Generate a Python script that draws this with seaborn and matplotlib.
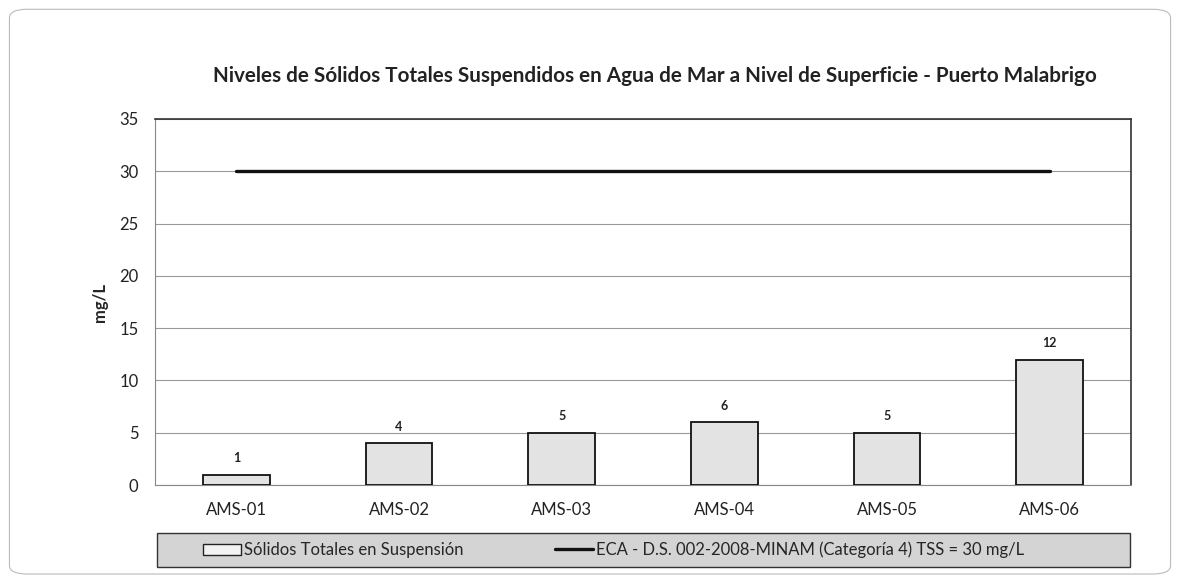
import pandas as pd
import matplotlib.pyplot as plt
import seaborn as sns
from matplotlib.patches import FancyBboxPatch, Patch, Rectangle
from matplotlib.lines import Line2D

estaciones = ["AMS-01", "AMS-02", "AMS-03", "AMS-04", "AMS-05", "AMS-06"]
sst = [1, 4, 5, 6, 5, 12]
eca = [30, 30, 30, 30, 30, 30]
y_ticks = [0, 5, 10, 15, 20, 25, 30, 35]

titulo = "Niveles de Sólidos Totales Suspendidos en Agua de Mar a Nivel de Superficie - Puerto Malabrigo"
lbl_barra = "Sólidos Totales en Suspensión"
lbl_linea = "ECA - D.S. 002-2008-MINAM (Categoría 4) TSS = 30 mg/L"

df = pd.DataFrame({"estacion": estaciones, "sst": sst, "eca": eca})

sns.set_style("white")
plt.rcParams["font.family"] = ["Lato", "DejaVu Sans"]

fig = plt.figure(figsize=(11.8, 5.81), dpi=100)
ax = fig.add_axes([0.1314, 0.1652, 0.8271, 0.63])

sns.barplot(data=df, x="estacion", y="sst", color="#e3e3e3", edgecolor="#111111",
            linewidth=1.3, width=0.41, ax=ax, zorder=3)
sns.lineplot(data=df, x="estacion", y="eca", color="#111111", linewidth=2.4,
             ax=ax, zorder=4)

for i, v in enumerate(sst):
    ax.text(i, v + 1.0, str(v), ha="center", va="bottom", fontsize=9,
            fontweight="bold", color="#222222")

ax.set_ylim(0, 35)
ax.set_xlim(-0.5, len(estaciones) - 0.5)
ax.set_yticks(y_ticks)
ax.set_yticklabels([str(t) for t in y_ticks], fontsize=12, color="#222222")
ax.tick_params(axis="x", labelsize=12, colors="#222222", length=0, pad=12)
ax.tick_params(axis="y", length=4, direction="out", color="#777777", pad=8)
ax.set_xlabel("")
ax.set_ylabel("mg/L", fontsize=12, fontweight="bold", labelpad=8)
ax.yaxis.grid(True, color="#999999", linewidth=0.8, zorder=0)
ax.set_axisbelow(True)

# marcas entre categorias
ax.set_xticks([i + 0.5 for i in range(len(estaciones) - 1)], minor=True)
ax.tick_params(axis="x", which="minor", length=4, color="#888888", direction="out")

for s in ["top", "right"]:
    ax.spines[s].set_visible(True)
    ax.spines[s].set_color("#333333")
    ax.spines[s].set_linewidth(1.2)
ax.spines["left"].set_color("#888888")
ax.spines["bottom"].set_color("#888888")

fig.text(0.555, 0.869, titulo, ha="center", va="center", fontsize=14.9,
         fontweight="bold", color="#222222")

# caja de la leyenda
caja = Rectangle((0.133, 0.024), 0.8246, 0.0585, transform=fig.transFigure,
                 facecolor="#d4d4d4", edgecolor="#333333", linewidth=1.0)
fig.patches.append(caja)

handles = [Patch(facecolor="#f2f2f2", edgecolor="#222222", linewidth=1.0),
           Line2D([0], [0], color="#111111", linewidth=2.4)]
leg = fig.legend(handles, [lbl_barra, lbl_linea], ncol=2, loc="center",
                 bbox_to_anchor=(0.520, 0.0533), fontsize=12, frameon=False,
                 handlelength=2.3, handletextpad=0.15, columnspacing=5.5)

borde = FancyBboxPatch((0.008, 0.012), 0.984, 0.972, transform=fig.transFigure,
                       boxstyle="round,pad=0,rounding_size=0.015",
                       facecolor="none", edgecolor="#bbbbbb", linewidth=0.8)
fig.patches.append(borde)

fig.savefig("out.png", dpi=100)
